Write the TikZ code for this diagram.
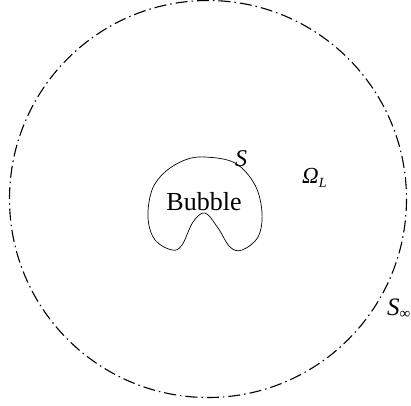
\documentclass[tikz,border=0pt]{standalone}
\usepackage{fontspec}
\setmainfont{Liberation Serif}
\begin{document}
\begin{tikzpicture}[x=1pt,y=-1pt,
  farfield/.style={line width=1.1pt, dash pattern=on 12pt off 4pt on 1.5pt off 4pt},
  bubbleline/.style={line width=0.7pt},
  lbl/.style={inner sep=0pt}]
\useasboundingbox (0,0) rectangle (411,405);
\draw[farfield] (208,199) circle[radius=198.5];
\draw[bubbleline] plot[smooth cycle, tension=0.6] coordinates {
 (205,157) (235,163) (255,185) (262,213) (258,237) (242,250) (230,247)
 (218,228) (205,213) (193,222) (182,245) (172,250) (155,240) (148,218)
 (152,190) (165,172) (185,160)};
\node[lbl, font=\fontsize{26}{30}\selectfont] (bubble) at (204,202) {Bubble};
\node[lbl, anchor=base west, font=\fontsize{24}{28}\selectfont] (s) at (235,166) {\textit{S}};
\node[lbl, anchor=base west, font=\fontsize{23}{27}\selectfont] (omega) at (302,183) {\textit{Ω}\raisebox{-0.2em}{\fontsize{14}{16}\selectfont\textit{L}}};
\node[lbl, anchor=base west, font=\fontsize{25}{29}\selectfont] (sinf) at (387,315) {\textit{S}\raisebox{-0.15em}{\fontsize{15}{17}\selectfont ∞}};
\end{tikzpicture}
\end{document}
